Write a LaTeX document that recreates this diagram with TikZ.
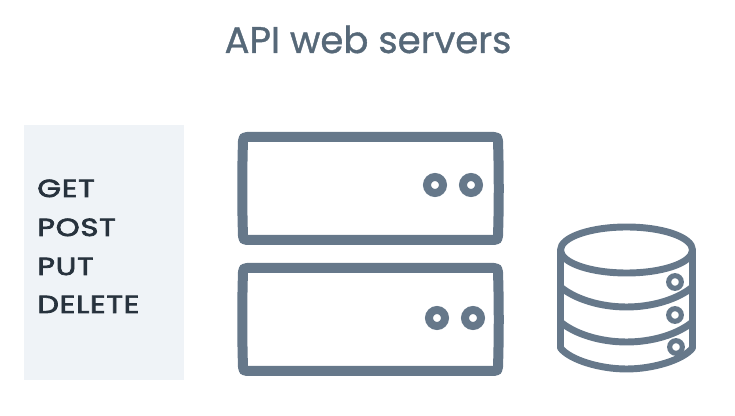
\documentclass[tikz,border=0pt]{standalone}
\usepackage{fontspec}
\setmainfont[FakeBold=1]{Poppins}
\newfontfamily\verbfont[FakeBold=3,FakeStretch=1.24,LetterSpace=3]{Poppins}
\definecolor{slateline}{HTML}{66788A}
\definecolor{titlegray}{HTML}{566878}
\definecolor{panelgray}{HTML}{EFF3F7}
\definecolor{verbdark}{HTML}{27323D}
\tikzset{
	verb/.style={anchor=base west, inner sep=0pt, text=verbdark, font=\verbfont\fontsize{18.5}{20}\selectfont},
	led/.style={draw=slateline, circle, line width=6pt, minimum size=12pt, inner sep=0pt},
	dbled/.style={draw=slateline, circle, line width=3.8pt, minimum size=9.5pt, inner sep=0pt},
	outline/.style={draw=slateline, line width=7.5pt, line join=round},
	dboutline/.style={draw=slateline, line width=5.2pt, line join=round}
}
\begin{document}
\begin{tikzpicture}[x=0.75pt,y=-0.75pt]
	\useasboundingbox (0,0) rectangle (735,416);
	\node (title) [anchor=base, inner sep=0pt, text=titlegray, font=\fontsize{27.8}{32}\selectfont] at (368,53) {API web servers};
	\node (panel) [fill=panelgray, anchor=north west, inner sep=0pt, minimum width=120pt, minimum height=191.25pt] at (24,125) {};
	\node (get) [verb] at (37,197) {GET};
	\node (post) [verb] at (37,236) {POST};
	\node (put) [verb] at (37,275) {PUT};
	\node (delete) [verb] at (37,313) {DELETE};
	% servers
	\draw [outline] (370,137) -- (494,137) .. controls (497,137) and (498,138) .. (498,141) .. controls (499,172) and (499,205) .. (498,236) .. controls (498,239) and (497,240) .. (494,240) -- (247,240) .. controls (244,240) and (243,239) .. (243,236) .. controls (242,205) and (242,172) .. (243,141) .. controls (243,138) and (244,137) .. (247,137) -- cycle;
	\draw [outline] (370,268) -- (494,268) .. controls (497,268) and (498,269) .. (498,272) .. controls (499,303) and (499,336) .. (498,367) .. controls (498,370) and (497,371) .. (494,371) -- (247,371) .. controls (244,371) and (243,370) .. (243,367) .. controls (242,336) and (242,303) .. (243,272) .. controls (243,269) and (244,268) .. (247,268) -- cycle;
	\node (led1) [led] at (435,185) {};
	\node (led2) [led] at (471,185) {};
	\node (led3) [led] at (437,318) {};
	\node (led4) [led] at (473,318) {};
	% database
	\draw [dboutline] (626.5,250) ellipse [x radius=66, y radius=23];
	\draw [dboutline] (560.5,250) -- (560.5,348) .. controls (570,360) and (600,369) .. (626.5,369) .. controls (653,369) and (683,360) .. (692.5,348) -- (692.5,250);
	\draw [dboutline] (560.5,287) .. controls (575,299) and (600,307) .. (626.5,307) .. controls (653,307) and (678,299) .. (692.5,287);
	\draw [dboutline] (560.5,322) .. controls (575,334) and (600,342) .. (626.5,342) .. controls (653,342) and (678,334) .. (692.5,322);
	\node (dbled1) [dbled, fill=white] at (675,282) {};
	\node (dbled2) [dbled, fill=white] at (675,315) {};
	\node (dbled3) [dbled, fill=white] at (676,347) {};
\end{tikzpicture}
\end{document}
